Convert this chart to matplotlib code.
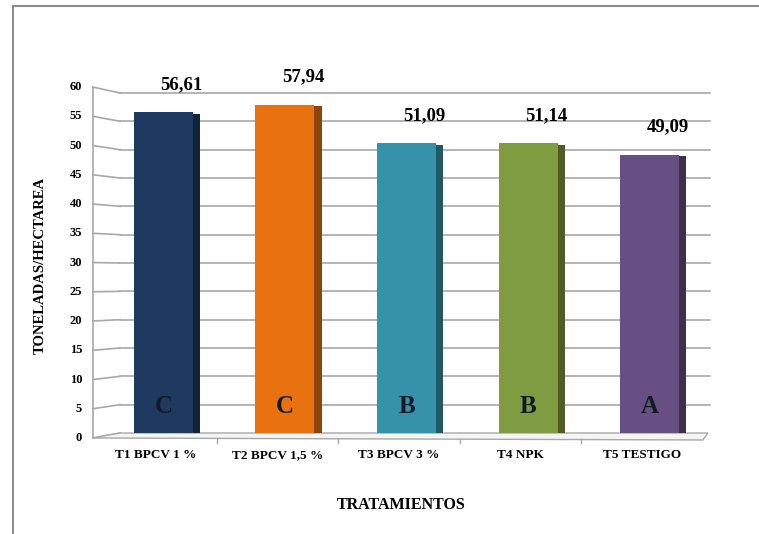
import matplotlib.pyplot as plt
import matplotlib.colors as mcolors
import numpy as np

# data
tratamientos = ['T1 BPCV 1 %', 'T2 BPCV 1,5 %', 'T3 BPCV 3 %', 'T4 NPK', 'T5 TESTIGO']
rendimiento = [56.61, 57.94, 51.09, 51.14, 49.09]
etiquetas = ['56,61', '57,94', '51,09', '51,14', '49,09']
letras = ['C', 'C', 'B', 'B', 'A']
colores = ['#1f3a60', '#e8720f', '#3592a8', '#7f9c40', '#674f84']
y_ticks = list(range(0, 65, 5))

SERIF = 'Liberation Serif'
GRID = '#a8a8a8'


def front_y(v):
    # front edge of the fake 3d wall sits slightly lower/taller than the back wall
    return v * 1.032 - 0.88


def main():
    fig = plt.figure(figsize=(7.59, 5.34), dpi=100)
    ax = fig.add_axes([95 / 759, 101 / 534, 615 / 759, 340 / 534])
    ax.set_xlim(-0.5, 4.558)
    ax.set_ylim(0, 60)
    for s in ax.spines.values():
        s.set_visible(False)
    ax.set_yticks([])
    ax.set_xticks([])

    x = np.arange(len(tratamientos))
    x_back = -0.294
    x_front = -0.516

    # back wall gridlines + slanted stubs to the front axis
    for v in y_ticks:
        if v > 0:
            ax.plot([x_back, 4.558], [v, v], color=GRID, lw=1.2, zorder=1, clip_on=False)
        ax.plot([x_front, x_back], [front_y(v), v], color=GRID, lw=1.2, zorder=1, clip_on=False)
        ax.text(x_front - 0.09, front_y(v), str(v), ha='right', va='center', fontsize=9,
                fontweight='bold', family=SERIF, clip_on=False)
    ax.plot([x_front, x_front], [front_y(0), front_y(60)], color=GRID, lw=1.2, clip_on=False)

    # floor
    floor = plt.Polygon([[x_back, 0], [4.541, 0], [4.50, front_y(0) - 0.35],
                         [x_front, front_y(0)]], closed=True, facecolor='#f5f5f5',
                        edgecolor=GRID, lw=1.0, zorder=1.5, clip_on=False)
    ax.add_patch(floor)
    for b in [0.5, 1.5, 2.5, 3.5]:
        ax.plot([b, b], [front_y(0) - 0.2, front_y(0) - 0.9], color=GRID, lw=1.0, clip_on=False)

    # bars: front face plus a darker side strip
    off = 0.062
    w = 0.485
    side = 0.06
    for i, (val, c) in enumerate(zip(rendimiento, colores)):
        dark = [ch * 0.6 for ch in mcolors.to_rgb(c)]
        ax.bar(x[i] + off, val, width=w, color=c, zorder=3)
        ax.bar(x[i] + off + w / 2 + side / 2, val - 0.25, width=side, color=dark, zorder=3)
        ax.text(x[i] + off, 4.6, letras[i], ha='center', va='center', fontsize=18,
                fontweight='bold', family=SERIF, color='#111a26', zorder=4)
        ax.annotate(etiquetas[i], (x[i] + off, val), xytext=(13, 20), textcoords='offset points',
                    ha='center', va='center', fontsize=13.5, fontweight='bold', family=SERIF)

    # category labels, baseline aligned
    for xi, lab in zip(x, tratamientos):
        ax.text(xi, -0.0735, lab, transform=ax.get_xaxis_transform(), ha='center',
                va='baseline', fontsize=9.5, fontweight='bold', family=SERIF)

    fig.text(401 / 759, 1 - 505 / 534, 'TRATAMIENTOS', ha='center', va='center',
             fontsize=11.5, fontweight='bold', family=SERIF)
    fig.text(40 / 759, 1 - 265 / 534, 'TONELADAS/HECTAREA', ha='center', va='center',
             rotation=90, fontsize=10.5, fontweight='bold', family=SERIF)

    # outer frame (cut off on the right and bottom like the source)
    fig.add_artist(plt.Line2D([13 / 759, 1.0], [1 - 6 / 534, 1 - 6 / 534], color='#8c8c8c', lw=1.5))
    fig.add_artist(plt.Line2D([13 / 759, 13 / 759], [0.0, 1 - 6 / 534], color='#8c8c8c', lw=1.5))

    fig.savefig('out.png', dpi=100)


if __name__ == '__main__':
    main()
